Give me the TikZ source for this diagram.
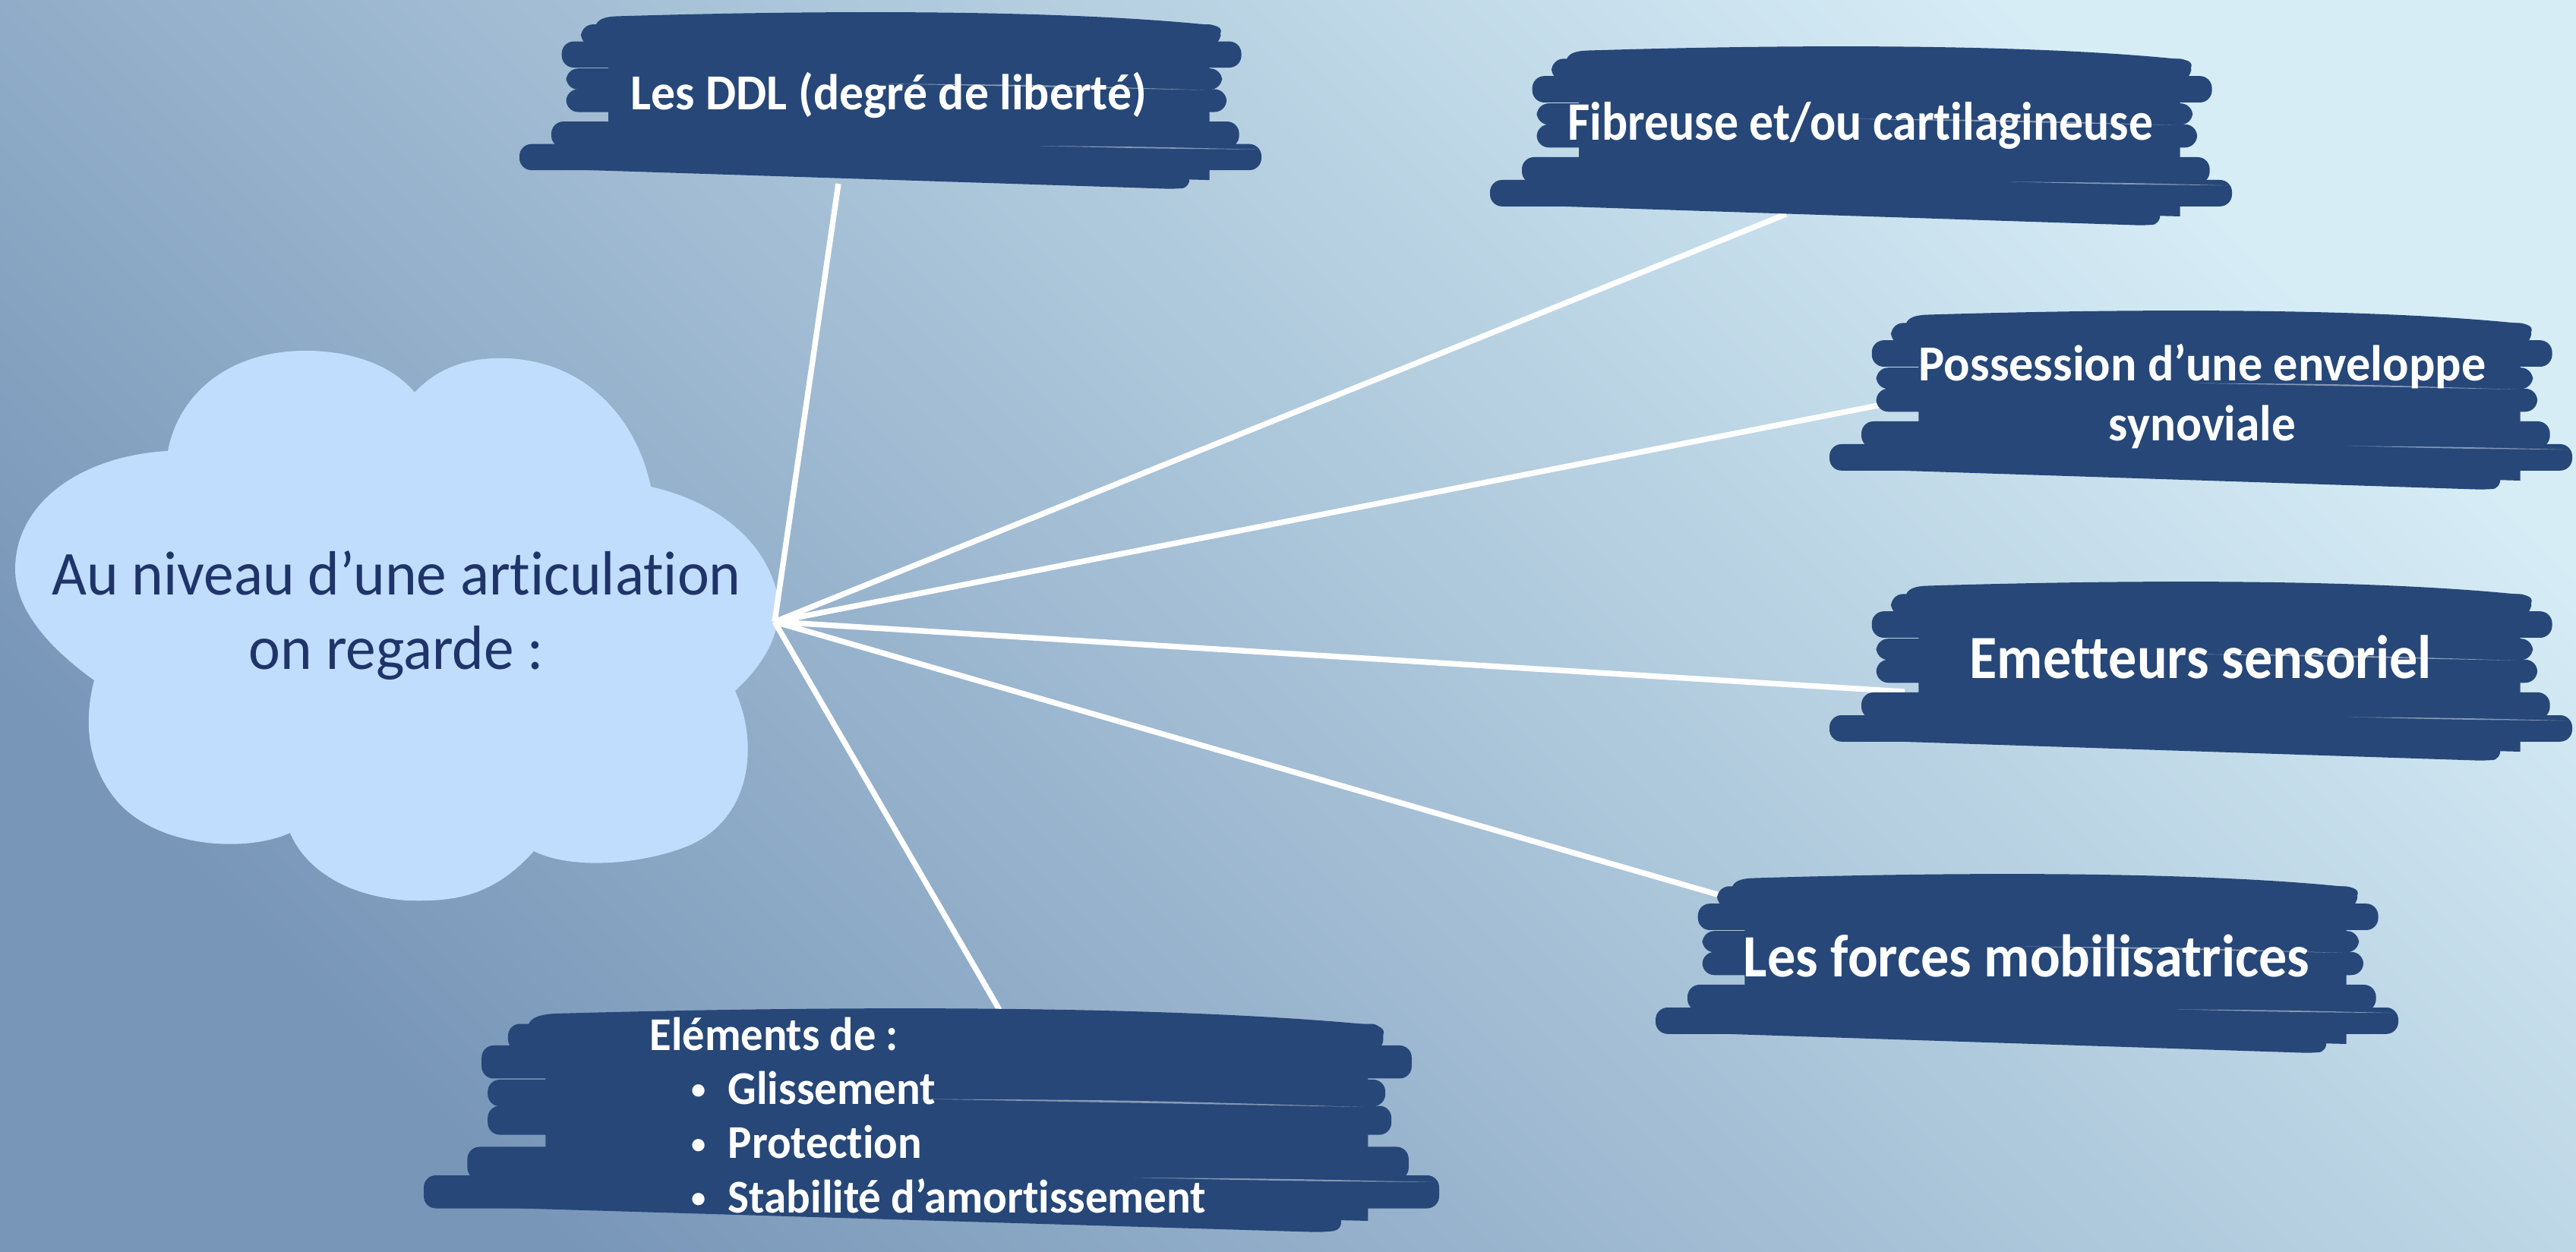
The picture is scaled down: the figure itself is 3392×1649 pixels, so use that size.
\documentclass[tikz,border=0pt]{standalone}
\usepackage{fontspec}
\setmainfont{Carlito}[Ligatures=NoCommon, Contextuals=NoAlternate]
\usepackage{graphicx}
\definecolor{bgA}{RGB}{120,150,184}
\definecolor{bgM}{RGB}{168,197,218}
\definecolor{bgB}{RGB}{214,237,246}
\definecolor{boxc}{RGB}{38,71,120}
\definecolor{cloudc}{RGB}{193,221,253}
\definecolor{cloudtxt}{RGB}{31,52,104}
\newcommand\cmpw[2]{\resizebox{#1}{\height}{#2}}
\newcommand\smbul{\raisebox{0.22ex}{\scalebox{0.62}{•}}}
\newcommand\scrib[4]{%
\begin{scope}[shift={(#1,#2)},xscale=#3,yscale=#4]
 \fill[boxc] (0.12,0.06) -- (0.93,0.1) -- (0.93,0.95) -- (0.12,0.86) -- cycle;
 \fill[boxc] (0.105,0.155) .. controls (0.098,0.08) and (0.105,0.045) .. (0.13,0.04)
   .. controls (0.45,0.0) and (0.75,0.01) .. (0.935,0.09)
   .. controls (0.948,0.1) and (0.948,0.13) .. (0.94,0.16) -- cycle;
 \fill[boxc,rounded corners=4.5pt] (0.083,0.085) rectangle (0.945,0.205);
 \fill[boxc,rounded corners=4.5pt] (0.057,0.18) rectangle (0.973,0.325);
 \fill[boxc,rounded corners=4.5pt] (0.063,0.33) rectangle (0.947,0.447);
 \fill[boxc,rounded corners=4.5pt] (0.063,0.445) rectangle (0.953,0.572);
 \fill[boxc,rounded corners=4.5pt] (0.043,0.625) rectangle (0.97,0.77);
 \fill[boxc,rounded corners=4.5pt] (0,0.75) rectangle (1,0.895);
 \fill[boxc,rounded corners=3.5pt] (0.01,0.86) -- (0.90,0.86) -- (0.905,0.99) -- (0.885,1.0) -- (0.02,0.885) -- cycle;
 \fill[white,opacity=.45] (0.49,0.415) .. controls (0.7,0.42) .. (0.925,0.45) .. controls (0.7,0.432) .. (0.49,0.415) -- cycle;
 \fill[white,opacity=.45] (0.70,0.76) .. controls (0.85,0.765) .. (0.995,0.78) .. controls (0.85,0.775) .. (0.70,0.76) -- cycle;
\end{scope}}
\tikzset{
 conn/.style={draw=white, line width=2.1pt},
 lbl/.style={text=white, inner sep=0pt, anchor=base west},
 lblc/.style={text=white, inner sep=0pt, anchor=base},
}
\begin{document}
\begin{tikzpicture}[x=0.01cm,y=-0.01cm]
\useasboundingbox (0,0) rectangle (3392,1649);
\shade[left color=bgB, middle color=bgM, right color=bgA, shading angle=-45] (0,0) rectangle (3392,1649);

% cloud
\fill[cloudc] (221,594) .. controls (235,520) and (300,462) .. (402,462)
  .. controls (470,462) and (520,485) .. (546,517)
  .. controls (580,480) and (625,470) .. (670,472)
  .. controls (780,478) and (840,560) .. (857,641)
  .. controls (940,660) and (1010,710) .. (1025,789)
  .. controls (1030,840) and (1000,880) .. (968,910)
  .. controls (1000,980) and (990,1080) .. (904,1115)
  .. controls (840,1140) and (750,1145) .. (703,1121)
  .. controls (650,1180) and (600,1188) .. (536,1186)
  .. controls (450,1180) and (400,1140) .. (382,1097)
  .. controls (320,1125) and (200,1115) .. (150,1050)
  .. controls (115,1005) and (110,950) .. (124,896)
  .. controls (60,850) and (20,800) .. (20,750)
  .. controls (20,660) and (110,600) .. (221,594) -- cycle;
\node[inner sep=0pt, anchor=base, text=cloudtxt, font=\fontsize{23.4pt}{27.9pt}\selectfont] (cloud) at (522,783)
  {\begin{tabular}[t]{@{}c@{}}\cmpw{9.07cm}{Au niveau d’une articulation}\\\cmpw{3.88cm}{on regarde :}\end{tabular}};

% connectors
\coordinate (hub) at (1020,819);
\coordinate (e-ddl) at (1104,242);
\coordinate (e-fib) at (2352,282);
\coordinate (e-syn) at (2478,533);
\coordinate (e-emet) at (2508,911);
\coordinate (e-forces) at (2268,1180);
\coordinate (e-elem) at (1316,1330);
\draw[conn] (hub) -- (e-ddl);
\draw[conn] (hub) -- (e-fib);
\draw[conn] (hub) -- (e-syn);
\draw[conn] (hub) -- (e-emet);
\draw[conn] (hub) -- (e-forces);
\draw[conn] (hub) -- (e-elem);

% boxes
\scrib{684}{12}{977}{237}
\scrib{1962}{57}{977}{240}
\scrib{2409}{405}{978}{240}
\scrib{2409}{762}{978}{240}
\scrib{2180}{1147}{978}{240}
\scrib{558}{1323}{1337}{300}

\node[lbl, font=\bfseries\fontsize{18.9pt}{22pt}\selectfont] (ddl) at (830,145) {\cmpw{6.79cm}{Les DDL (degré de liberté)}};
\node[lbl, font=\bfseries\fontsize{20.3pt}{24pt}\selectfont] (fib) at (2064,185) {\cmpw{7.70cm}{Fibreuse et/ou cartilagineuse}};
\node[lblc, font=\bfseries\fontsize{18.9pt}{22.2pt}\selectfont] (syn) at (2900,502)
  {\begin{tabular}[t]{@{}c@{}}\cmpw{7.46cm}{Possession d’une enveloppe}\\\cmpw{2.46cm}{synoviale}\end{tabular}};
\node[lbl, font=\bfseries\fontsize{23pt}{27pt}\selectfont] (emet) at (2593,893) {\cmpw{6.08cm}{Emetteurs sensoriel}};
\node[lbl, font=\bfseries\fontsize{22.5pt}{27pt}\selectfont] (forces) at (2295,1286) {\cmpw{7.45cm}{Les forces mobilisatrices}};
\node[lbl, font=\bfseries\fontsize{17.6pt}{20.3pt}\selectfont] (elem) at (855,1383)
  {\begin{tabular}[t]{@{}l@{}}\cmpw{3.27cm}{Eléments de :}\\
  \makebox[1.03cm][l]{\hspace{0.55cm}\smbul}\cmpw{2.73cm}{Glissement}\\
  \makebox[1.03cm][l]{\hspace{0.55cm}\smbul}\cmpw{2.55cm}{Protection}\\
  \makebox[1.03cm][l]{\hspace{0.55cm}\smbul}\cmpw{6.29cm}{Stabilité d’amortissement}\end{tabular}};
\end{tikzpicture}
\end{document}
